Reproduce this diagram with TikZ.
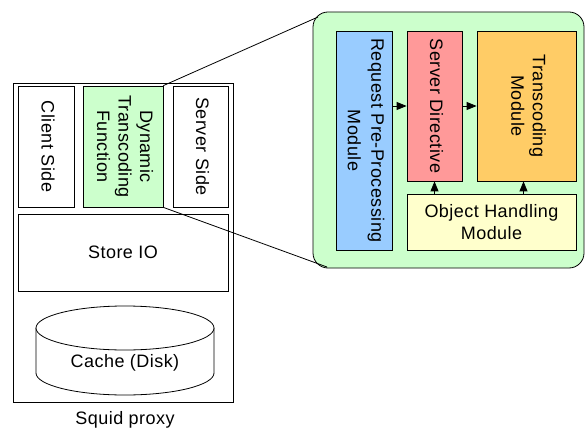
\documentclass[tikz,border=0pt]{standalone}
\usepackage{fontspec}
\setmainfont[LetterSpace=2.5]{Liberation Sans}
\usetikzlibrary{arrows.meta}

\definecolor{dtfgreen}{HTML}{CCFFCC}
\definecolor{reqblue}{HTML}{99CCFF}
\definecolor{dirred}{HTML}{FF9999}
\definecolor{trorange}{HTML}{FFCC66}
\definecolor{objyellow}{HTML}{FFFFCC}

% text set top to bottom inside the tall boxes
\newcommand{\sidetext}[1]{\rotatebox{-90}{\begin{tabular}{@{}c@{}}#1\end{tabular}}}

\begin{document}
\begin{tikzpicture}[x=1pt, y=-1pt,
		font=\fontsize{18}{21.5}\selectfont,
		box/.style={draw, line width=0.8pt, inner sep=0pt, fill=white},
		arr/.style={line width=0.8pt, -{Triangle[length=10pt,width=8pt]}}]
	\useasboundingbox (0,0) rectangle (585,430);

	% squid proxy
	\node [box, minimum width=220pt, minimum height=319pt] (squid) at (123,242.5) {};
	\node [box, minimum width=56pt, minimum height=121pt] (client) at (46,146.5) {\sidetext{Client Side}};
	\node [box, fill=dtfgreen, minimum width=80pt, minimum height=121pt] (dtf) at (123,146.5) {\sidetext{Dynamic\\Transcoding\\Function}};
	\node [box, minimum width=55pt, minimum height=121pt] (server) at (200.5,146.5) {\sidetext{Server Side}};
	\node [box, minimum width=210pt, minimum height=77pt] (store) at (123,252.5) {Store IO};

	% disk cache
	\draw [line width=0.8pt, fill=white] (36,328) -- (36,373)
		arc [start angle=180, end angle=360, x radius=89pt, y radius=22pt] -- (214,328);
	\draw [line width=0.8pt, fill=white] (125,328) ellipse [x radius=89pt, y radius=22pt];
	\node (cache) at (125,363) {Cache (Disk)};

	\node (squidlbl) at (125,420) {Squid proxy};

	% detail of the transcoding function
	\node [box, fill=dtfgreen, rounded corners=15pt, minimum width=271pt, minimum height=256pt] (detail) at (448.5,140) {};
	\coordinate (zt) at (318,17);
	\coordinate (zb) at (327,267);
	\draw [line width=0.8pt] (dtf.north east) -- (zt);
	\draw [line width=0.8pt] (dtf.south east) -- (zb);

	\node [box, fill=reqblue, minimum width=56pt, minimum height=219pt] (req) at (364,140.5) {\sidetext{Request Pre-Processing\\[2pt]Module}};
	\node [box, fill=dirred, minimum width=55pt, minimum height=150pt] (dir) at (434.5,106) {\sidetext{Server Directive}};
	\node [box, fill=trorange, minimum width=99pt, minimum height=150pt] (trans) at (526.5,106) {\sidetext{Transcoding\\Module}};
	\node [box, fill=objyellow, minimum width=169pt, minimum height=56pt, align=center] (obj) at (491.5,222) {Object Handling\\Module};

	\draw [arr] (req.east |- dir.west) -- (dir.west);
	\draw [arr] (dir.east) -- (trans.west);
	\draw [arr] (obj.north -| dir.south) -- (dir.south);
	\draw [arr] ([xshift=-3pt]obj.north -| trans.south) -- ([xshift=-3pt]trans.south);
\end{tikzpicture}
\end{document}
